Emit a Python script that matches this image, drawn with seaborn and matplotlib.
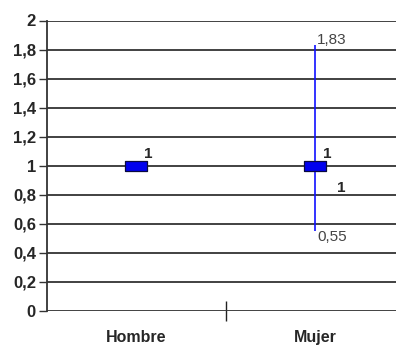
import matplotlib
matplotlib.use("Agg")
import matplotlib.pyplot as plt
import seaborn as sns
import pandas as pd
import numpy as np

categories = ["Hombre", "Mujer"]
values = [1, 1]
lower = [1, 0.55]
upper = [1, 1.83]
ytick_vals = [0, 0.2, 0.4, 0.6, 0.8, 1, 1.2, 1.4, 1.6, 1.8, 2]
ytick_labels = ["0", "0,2", "0,4", "0,6", "0,8", "1", "1,2", "1,4", "1,6", "1,8", "2"]

sns.set_theme(style="white")
plt.rcParams['font.family'] = ['Liberation Sans', 'DejaVu Sans']

df = pd.DataFrame({"cat": categories, "val": values, "lo": lower, "hi": upper,
                   "pos": np.arange(len(categories))})

fig = plt.figure(figsize=(3.96, 3.56), dpi=100)
ax = fig.add_axes([47/396, 1 - 311/356, 1 - 47/396, (311 - 20.5)/356])

# gridlines
for v in ytick_vals:
    ax.axhline(v, color="#333333", lw=1.3, zorder=1)

# error line
ax.vlines(df["pos"], df["lo"], df["hi"], color="#1010ff", lw=1.2, zorder=2)

rect = [(-1.1, -0.5), (1.1, -0.5), (1.1, 0.5), (-1.1, 0.5), (-1.1, -0.5)]
sns.scatterplot(data=df, x="pos", y="val", marker=rect, s=260, color="#0000ee",
                edgecolor="#0a0a40", linewidth=0.9, zorder=3, ax=ax, legend=False)

ax.set_xlim(-0.5, 1.45)
ax.set_ylim(0, 2)
ax.set_xticks([0.5])
ax.set_xticklabels([""])
ax.set_yticks(ytick_vals)
ax.set_yticklabels(ytick_labels, fontsize=12, fontweight="bold")
ax.tick_params(axis="y", direction="out", length=6, width=1, color="#333333", pad=2, left=True)
ax.tick_params(axis="x", direction="inout", length=14, width=1, color="#222222", bottom=True)
ax.set_xlabel("")
ax.set_ylabel("")
for s in ["top", "right", "bottom"]:
    ax.spines[s].set_visible(False)
ax.spines["left"].set_color("#333333")
ax.spines["left"].set_linewidth(1.3)

# category labels
for p, c in zip(df["pos"], categories):
    ax.text(p, -0.13, c, ha="center", va="top", fontsize=11.5, fontweight="bold",
            transform=ax.transData, clip_on=False)

# value labels
for p, v in zip(df["pos"], values):
    ax.text(p + 0.04, v + 0.03, f"{v:g}", ha="left", va="bottom", fontsize=11, fontweight="bold")
ax.text(df["pos"][1] + 0.12, values[1] - 0.15, f"{values[1]:g}", ha="left", va="center",
        fontsize=11, fontweight="bold")
ax.text(df["pos"][1] + 0.01, upper[1] - 0.01, f"{upper[1]:.2f}".replace(".", ","), ha="left", va="bottom",
        fontsize=11, color="#444444")
ax.text(df["pos"][1] + 0.01, lower[1] + 0.01, f"{lower[1]:.2f}".replace(".", ","), ha="left", va="top",
        fontsize=11, color="#444444")

fig.savefig("out.png", dpi=100)
